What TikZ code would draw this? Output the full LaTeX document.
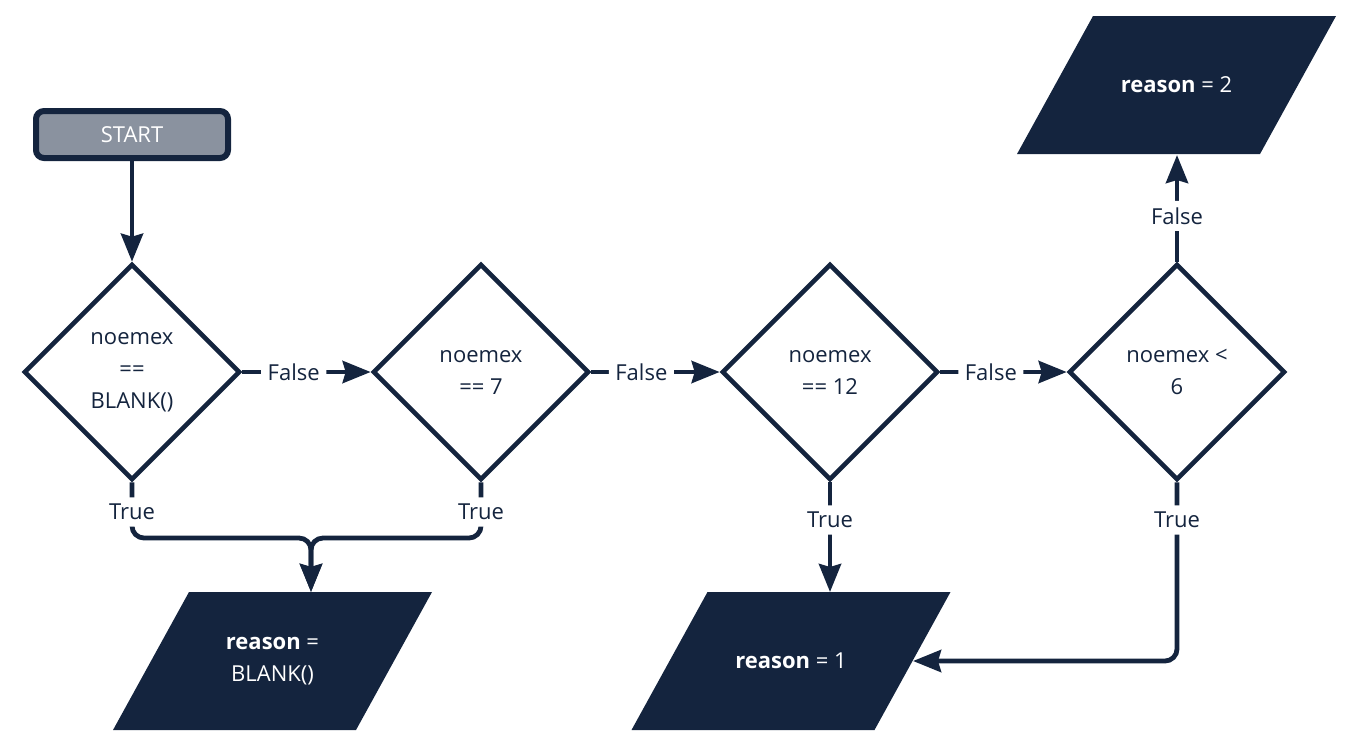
\documentclass[tikz,border=0pt]{standalone}
\usepackage{fontspec}
\setmainfont{Open Sans}
\usetikzlibrary{shapes.geometric,arrows.meta}
\definecolor{navy}{HTML}{14243E}
\definecolor{startgray}{HTML}{8A929F}
\begin{document}
\begin{tikzpicture}[x=0.5pt,y=-0.5pt,
  font=\fontsize{11}{16}\selectfont,
  conn/.style={draw=navy,line width=2.4pt,rounded corners=6pt},
  arr/.style={conn,-{Stealth[length=14pt,width=11pt,inset=1.5pt]}},
  dec/.style={diamond,draw=navy,line width=2.3pt,fill=white,minimum width=108pt,minimum height=108pt,inner sep=0pt,align=center,text=navy},
  lbl/.style={fill=white,text=navy,inner sep=3.3pt},
  startbox/.style={draw=navy,line width=3pt,fill=startgray,rounded corners=4pt,minimum width=96pt,minimum height=23.5pt,text=white,inner sep=0pt},
  para/.style={fill=navy},
  ptext/.style={text=white,align=center,inner sep=0pt}]
\useasboundingbox (0,0) rectangle (1348,741);

% output parallelograms
\fill[para] (189,592) -- (432,592) -- (356,730) -- (113,730) -- cycle;
\node[ptext] (p1) at (272.5,661) {\textbf{reason} =\\BLANK()};
\coordinate (p1top) at (311,592);

\fill[para] (707.5,592) -- (950.5,592) -- (874.5,730) -- (631.5,730) -- cycle;
\node[ptext] (p2) at (791,661) {\textbf{reason} = 1};
\coordinate (p2top) at (830,592);
\coordinate (p2right) at (913,661);

\fill[para] (1093,16) -- (1336,16) -- (1260,154) -- (1017,154) -- cycle;
\node[ptext] (p3) at (1176.5,85) {\textbf{reason} = 2};
\coordinate (p3bot) at (1177,155);

% start and decisions
\node[startbox] (start) at (132,134.5) {START};
\node[dec] (d1) at (132,372) {noemex\\==\\BLANK()};
\node[dec] (d2) at (481,372) {noemex\\== 7};
\node[dec] (d3) at (830,372) {noemex\\== 12};
\node[dec] (d4) at (1177,372) {noemex <\\6};

% connectors
\draw[arr] (start.south) -- (d1.north);

\draw[arr] (d1.east) -- node[lbl,pos=0.4]{False} (d2.west);
\draw[arr] (d2.east) -- node[lbl,pos=0.39]{False} (d3.west);
\draw[arr] (d3.east) -- node[lbl,pos=0.4]{False} (d4.west);
\draw[arr] (d4.north) -- node[lbl,pos=0.43]{False} (p3bot);

\draw[arr] (d1.south) -- (132,538) -- (311,538) -- (p1top) node[lbl] at (132,512) {True};
\draw[arr] (d2.south) -- (481,538) -- (311,538) -- (p1top) node[lbl] at (481,512) {True};
\draw[arr] (d3.south) -- (p2top) node[lbl] at (830,520) {True};
\draw[arr] (d4.south) -- (1177,661) -- (p2right) node[lbl] at (1177,520) {True};
\end{tikzpicture}
\end{document}
